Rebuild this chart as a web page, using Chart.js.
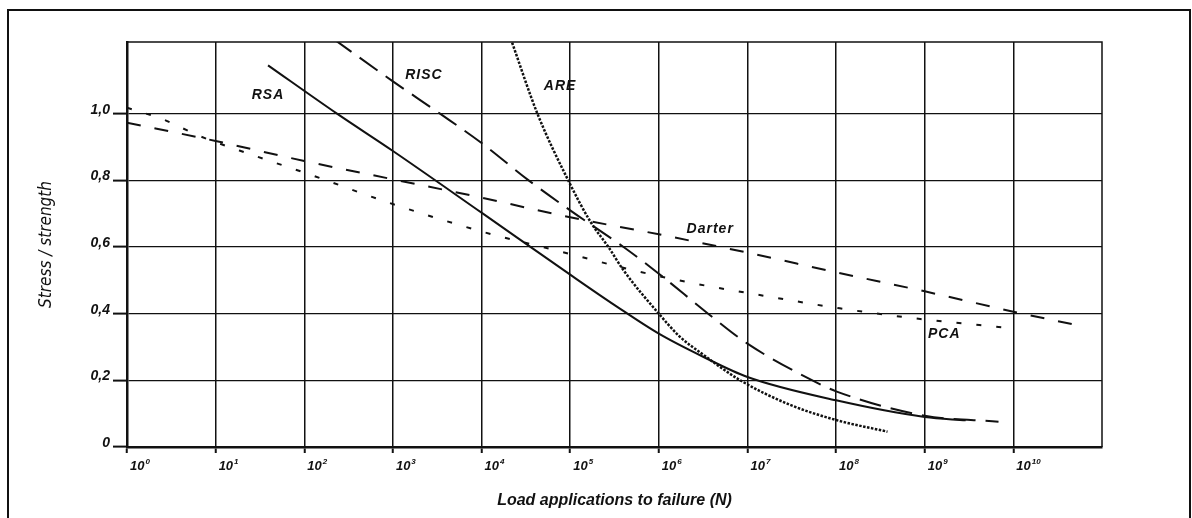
<!DOCTYPE html>
<html>
<head>
<meta charset="utf-8">
<title>Stress / strength vs load applications</title>
<script src="https://cdn.jsdelivr.net/npm/chart.js@4.4.1/dist/chart.umd.min.js"></script>
<style>
  html, body { margin: 0; padding: 0; background: #fff; }
  canvas { display: block; }
</style>
</head>
<body>
<canvas id="fatiguechart" width="1192" height="518"></canvas>
<script>
// Fatigue curves: stress ratio against load applications to failure (N)
var rsaN = [39, 234, 1e3, 1e4, 1e5, 3.2e5, 1e6, 3.2e6, 1e7, 1e8, 1e9, 2.9e9];
var rsaRatio = [1.145, 1.0, 0.888, 0.703, 0.517, 0.425, 0.34, 0.27, 0.21, 0.14, 0.09, 0.08];

var riscN = [214, 1e3, 3400, 1e4, 3.4e4, 1e5, 4e5, 1e6, 3.6e6, 1e7, 5.4e7, 1e8, 1e9, 6.8e9];
var riscRatio = [1.224, 1.097, 1.0, 0.912, 0.8, 0.71, 0.6, 0.52, 0.4, 0.31, 0.2, 0.167, 0.094, 0.076];

var areN = [2.14e4, 4.27e4, 9.5e4, 1.7e5, 2.7e5, 4e5, 1e6, 1.74e6, 2.95e6, 8.3e6, 3e7, 1e8, 3.8e8];
var areRatio = [1.224, 1.0, 0.8, 0.675, 0.6, 0.53, 0.4, 0.33, 0.283, 0.2, 0.127, 0.081, 0.046];

var darterN = [1, 10, 100, 1e3, 1e4, 1e5, 1e6, 1e7, 1e8, 1e9, 1e10, 4.7e10];
var darterRatio = [0.973, 0.918, 0.858, 0.803, 0.748, 0.689, 0.638, 0.583, 0.524, 0.467, 0.406, 0.368];

var pcaN = [1, 2.6, 6.6, 26, 123, 850, 1.02e4, 7.6e4, 5.8e5, 2.7e6, 1.3e7, 1.1e8, 8.9e8, 7.6e9];
var pcaRatio = [1.018, 0.982, 0.933, 0.876, 0.815, 0.735, 0.646, 0.587, 0.527, 0.489, 0.457, 0.416, 0.384, 0.359];

var decadeExponents = [0, 1, 2, 3, 4, 5, 6, 7, 8, 9, 10];
var ratioTicks = [0, 0.2, 0.4, 0.6, 0.8, 1.0];

// where each curve name sits, in data units
var curveNames = [
  { text: 'RSA', n: 39, ratio: 1.055 },
  { text: 'RISC', n: 2240, ratio: 1.115 },
  { text: 'ARE', n: 7.7e4, ratio: 1.082 },
  { text: 'Darter', n: 3.8e6, ratio: 0.655 },
  { text: 'PCA', n: 1.66e9, ratio: 0.34 }
];

var ink = '#111';
var family = '"Liberation Sans", Arial, sans-serif';
var boldItalic = function (size) {
  return { family: family, style: 'italic', weight: 'bold', size: size };
};

function points(ns, ratios) {
  return ns.map(function (n, i) { return { x: n, y: ratios[i] }; });
}

function curve(label, ns, ratios, dash, width) {
  return {
    label: label,
    data: points(ns, ratios),
    borderColor: ink,
    borderWidth: width,
    borderDash: dash,
    borderCapStyle: 'butt',
    pointRadius: 0,
    fill: false,
    cubicInterpolationMode: 'monotone'
  };
}

var decorations = {
  id: 'decorations',
  beforeDraw: function (chart) {
    var c = chart.ctx;
    c.save();
    c.fillStyle = '#fff';
    c.fillRect(0, 0, chart.width, chart.height);
    c.restore();
  },
  afterDraw: function (chart) {
    var c = chart.ctx, a = chart.chartArea;
    var xs = chart.scales.x, ys = chart.scales.y;
    c.save();
    // top and right edges of the plot box
    c.strokeStyle = ink;
    c.lineWidth = 1.5;
    c.beginPath();
    c.moveTo(a.left, a.top);
    c.lineTo(a.right, a.top);
    c.lineTo(a.right, a.bottom);
    c.stroke();
    // page frame
    c.lineWidth = 2;
    c.beginPath();
    c.moveTo(8, chart.height);
    c.lineTo(8, 10);
    c.lineTo(1190, 10);
    c.lineTo(1190, chart.height);
    c.stroke();

    c.fillStyle = ink;
    // decade labels, 10 with a raised exponent
    c.textAlign = 'left';
    c.textBaseline = 'alphabetic';
    decadeExponents.forEach(function (e) {
      var px = xs.getPixelForValue(Math.pow(10, e)) + 3;
      c.font = 'italic bold 13px ' + family;
      c.fillText('10', px, a.bottom + 23);
      var w = c.measureText('10').width;
      c.font = 'italic bold 8px ' + family;
      c.fillText(String(e), px + w + 1, a.bottom + 17);
    });

    // curve names
    c.font = 'italic bold 14px ' + family;
    c.letterSpacing = '1px';
    c.textAlign = 'center';
    c.textBaseline = 'middle';
    curveNames.forEach(function (t) {
      c.fillText(t.text, xs.getPixelForValue(t.n), ys.getPixelForValue(t.ratio));
    });
    c.restore();
  }
};

var ctx = document.getElementById('fatiguechart').getContext('2d');
var fatigueChart = new Chart(ctx, {
  type: 'line',
  data: {
    datasets: [
      curve('RSA', rsaN, rsaRatio, [], 2),
      curve('RISC', riscN, riscRatio, [22, 10], 2),
      curve('ARE', areN, areRatio, [2.5, 1.5], 2.5),
      curve('Darter', darterN, darterRatio, [14, 14], 2),
      curve('PCA', pcaN, pcaRatio, [5, 15], 2)
    ]
  },
  options: {
    responsive: false,
    animation: false,
    layout: { padding: { left: 30, top: 42, right: 90, bottom: 0 } },
    plugins: {
      legend: { display: false },
      tooltip: { enabled: false }
    },
    scales: {
      x: {
        type: 'logarithmic',
        min: 1,
        max: 1e11,
        afterBuildTicks: function (scale) {
          scale.ticks = decadeExponents.map(function (e) { return { value: Math.pow(10, e) }; });
        },
        afterFit: function (scale) { scale.height = 71; },
        ticks: { display: false, autoSkip: false, maxRotation: 0 },
        grid: { color: ink, lineWidth: 1.5, tickLength: 6, tickWidth: 2, tickColor: ink },
        border: { color: ink, width: 2.5 },
        title: {
          display: true,
          text: 'Load applications to failure (N)',
          color: ink,
          font: boldItalic(16),
          padding: { top: 8, bottom: 8 }
        }
      },
      y: {
        type: 'linear',
        min: 0,
        max: 1.215,
        afterBuildTicks: function (scale) {
          scale.ticks = ratioTicks.map(function (v) { return { value: v }; });
        },
        afterFit: function (scale) { scale.width = 97; },
        ticks: {
          labelOffset: -4,
          padding: 3,
          color: ink,
          font: boldItalic(14),
          callback: function (value) {
            return value === 0 ? '0' : value.toFixed(1).replace('.', ',');
          }
        },
        grid: { color: ink, lineWidth: 1.2, tickLength: 14, tickWidth: 2, tickColor: ink },
        border: { color: ink, width: 2.5 },
        title: {
          display: true,
          text: 'Stress / strength',
          color: ink,
          font: { family: '"Liberation Sans Narrow", "DejaVu Sans Condensed", sans-serif', style: 'italic', size: 17 },
          padding: { top: 6, bottom: 0 }
        }
      }
    }
  },
  plugins: [decorations]
});
</script>
</body>
</html>
